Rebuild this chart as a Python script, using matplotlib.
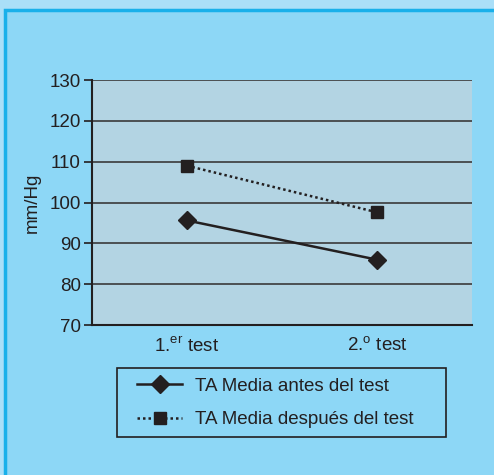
import matplotlib.pyplot as plt
from matplotlib.patches import Rectangle
from matplotlib.lines import Line2D

categories = [r'1.$^{\mathrm{er}}$ test', r'2.$^{\mathrm{o}}$ test']
antes = [95.6, 86.0]
despues = [109.0, 97.6]
yticks = [70, 80, 90, 100, 110, 120, 130]
label_antes = 'TA Media antes del test'
label_despues = 'TA Media después del test'

plt.rcParams['font.family'] = ['Liberation Sans', 'DejaVu Sans']
plt.rcParams['mathtext.fontset'] = 'custom'
plt.rcParams['mathtext.rm'] = 'Liberation Sans'

W, H = 494, 475
fig = plt.figure(figsize=(W / 100, H / 100), dpi=100)
fig.patch.set_facecolor('#aadff8')

# framed panel, running off the right and bottom edges
fig.patches.append(Rectangle((5 / W, -0.05), 1.1, 1.05 - 10 / H, transform=fig.transFigure,
                             facecolor='#8dd7f6', edgecolor='#19b0ea', lw=2.5, zorder=-5))

ax = fig.add_axes([92 / W, 1 - 325 / H, 380 / W, 245 / H])
ax.set_facecolor('#b3d4e3')
x = list(range(len(categories)))
ax.plot(x, antes, color='#231f20', lw=1.8, marker='D', ms=9)
ax.plot(x, despues, color='#231f20', lw=1.8, ls=(0, (1, 1.2)), marker='s', ms=8)

ax.set_xlim(-0.5, 1.5)
ax.set_ylim(70, 130)
ax.set_yticks(yticks)
ax.set_xticks(x)
ax.set_xticklabels(categories)
ax.yaxis.grid(True, color='#3a3a3a', lw=1.2)
ax.set_axisbelow(True)
ax.tick_params(axis='y', length=6, width=1.2, labelsize=13.5, colors='#231f20', pad=2)
ax.tick_params(axis='x', length=0, labelsize=13.5, colors='#231f20', pad=8)
for s in ['left', 'bottom']:
    ax.spines[s].set_color('#231f20')
    ax.spines[s].set_linewidth(1.5)
for s in ['right', 'top']:
    ax.spines[s].set_visible(False)
ax.set_ylabel('mm/Hg', fontsize=13.5, color='#231f20', labelpad=6)

handles = [
    Line2D([], [], color='#231f20', lw=1.8, marker='D', ms=9),
    Line2D([], [], color='#231f20', lw=1.8, ls=(0, (1, 1.2)), marker='s', ms=8),
]
leg = fig.legend(handles, [label_antes, label_despues], loc='center left',
                 bbox_to_anchor=(137 / W, 1 - 403 / H), fontsize=13.5,
                 frameon=False, handlelength=2.4,
                 borderpad=0, labelspacing=0.85, handletextpad=0.7,
                 borderaxespad=0)
for t in leg.get_texts():
    t.set_color('#231f20')

# legend box
fig.patches.append(Rectangle((117 / W, 1 - 437 / H), (446 - 117) / W, 69 / H,
                             transform=fig.transFigure, facecolor='none',
                             edgecolor='#231f20', lw=1.2))

fig.savefig('out.png', dpi=100, facecolor=fig.get_facecolor())
